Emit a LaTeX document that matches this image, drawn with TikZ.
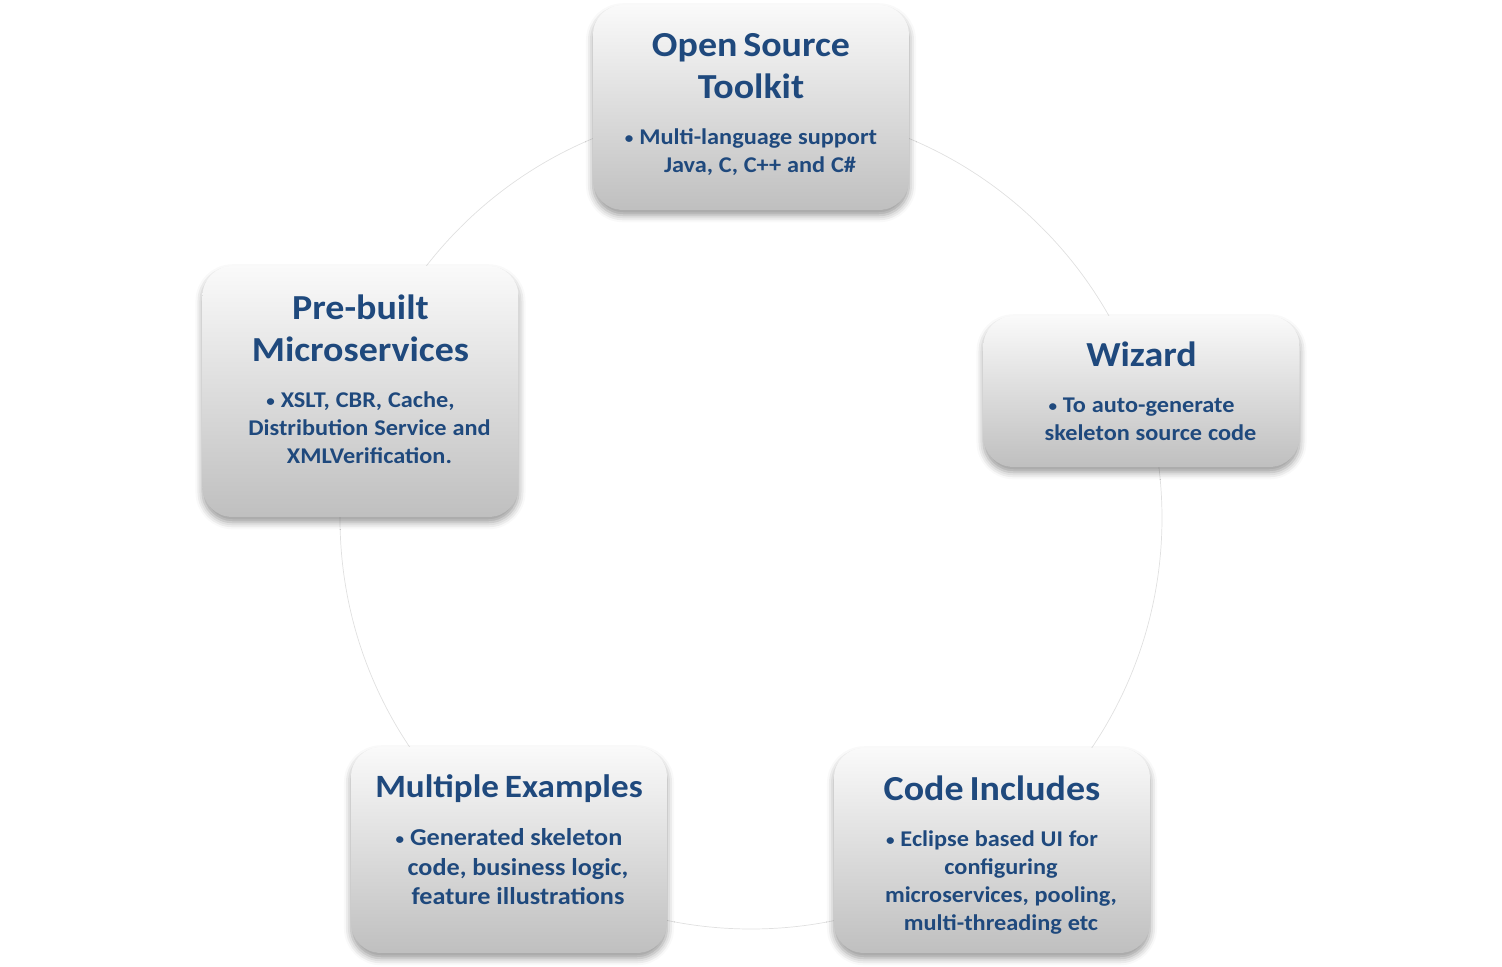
\documentclass[tikz,border=0pt]{standalone}
\usepackage{fontspec}
\setmainfont{Carlito}[FakeStretch=1.08]
\usepackage{xcolor}
\usepackage{tikz}
\usetikzlibrary{shadows.blur}
\definecolor{cardblue}{RGB}{31,73,125}
\newcommand{\titlefont}{\fontsize{20}{24}\selectfont\bfseries}
\newcommand{\smalltitlefont}{\fontsize{18.5}{24}\selectfont\bfseries}
\newcommand{\bodyfont}{\fontsize{12.8}{16}\selectfont\bfseries}
\newcommand{\bigbodyfont}{\fontsize{13.8}{17}\selectfont\bfseries}
\newcommand{\dotmark}{\raisebox{0.1ex}{\small\textbullet}\ }
\newcommand{\nextline}{\\\hspace*{0.36cm}}
\newcommand{\cardtext}[3][\bodyfont]{{\titlefont #2\par}\vspace{10pt}{#1 #3\par}}

\begin{document}
\begin{tikzpicture}
\tikzstyle{card} = [rectangle,rounded corners=0.6cm,top color=black!2,bottom color=black!25,
  text=cardblue,align=center,text width=6.1cm,minimum width=6.32cm,inner sep=0pt,
  blur shadow={shadow xshift=0pt,shadow yshift=-3pt,shadow blur radius=4pt,shadow opacity=40}];
\tikzstyle{ring} = [draw=black!12,line width=0.4pt];
\useasboundingbox (-15.02,-8.98) rectangle (15.02,10.36);
\coordinate (hub) at (0,0);
\draw [ring] (hub) circle (8.22);
\node [card,minimum height=4.1cm] (toolkit) at (0,8.21)
  {\cardtext{Open Source\\Toolkit}{\dotmark Multi-language support\nextline Java, C, C++ and C\#}\vspace{0.12cm}};
\node [card,minimum height=3.02cm] (wizard) at (7.81,2.53)
  {\cardtext{Wizard}{\dotmark To auto-generate\nextline skeleton source code}};
\node [card,minimum height=5.02cm] (prebuilt) at (-7.81,2.53)
  {\cardtext{Pre-built\\Microservices}{\dotmark XSLT, CBR, Cache,\nextline Distribution Service and\nextline XMLVerification.}\vspace{0.48cm}};
\node [card,minimum height=4.12cm] (examples) at (-4.84,-6.64)
  {{\smalltitlefont Multiple Examples\par}\vspace{10pt}{\bigbodyfont \dotmark Generated skeleton\nextline code, business logic,\nextline feature illustrations\par}\vspace{0.4cm}};
\node [card,minimum height=4.1cm] (includes) at (4.82,-6.65)
  {\cardtext{Code Includes}{\dotmark Eclipse based UI for\nextline configuring\nextline microservices, pooling,\nextline multi-threading etc}\vspace{-0.2cm}};
\end{tikzpicture}
\end{document}
